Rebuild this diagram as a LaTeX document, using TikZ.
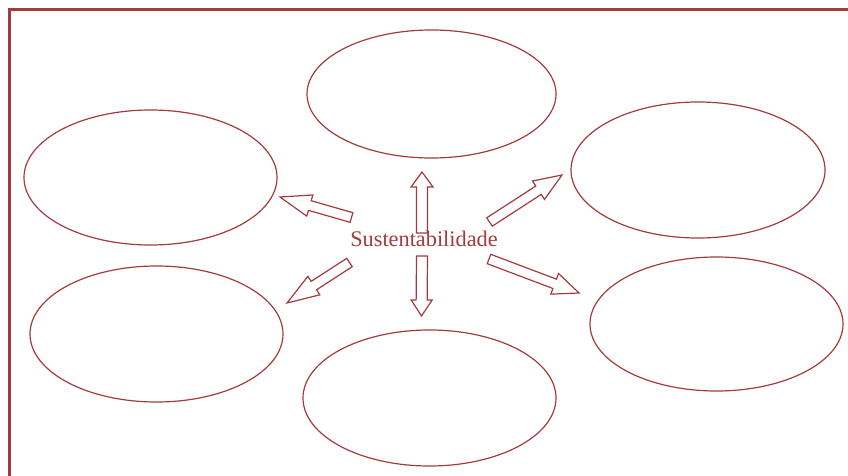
\documentclass[tikz,border=0pt]{standalone}
\usepackage{fontspec}
\setmainfont{Liberation Serif}
\usetikzlibrary{calc}
\definecolor{dred}{HTML}{A33B3B}
\tikzset{
  bubble/.style={draw=dred, line width=1.2pt},
  blockarr/.style={draw=dred, line width=1.2pt, line join=miter},
  frame/.style={draw=dred, line width=2.2pt},
}
\newcommand{\blockarrow}[5]{% tail, tip, shaft half width, head half width, head length
  \path coordinate (bC) at ($(#2)!#5!(#1)$);
  \draw[blockarr] ($(#1)!#3!90:(#2)$) -- ($(bC)!#3!-90:(#1)$) -- ($(bC)!#4!-90:(#1)$) -- (#2)
    -- ($(bC)!#4!90:(#1)$) -- ($(bC)!#3!90:(#1)$) -- ($(#1)!#3!-90:(#2)$) -- cycle;
}
\begin{document}
\begin{tikzpicture}[x=1pt,y=-1pt]
\useasboundingbox (0,0) rectangle (848,476);
\draw[frame] (9.5,490) -- (9.5,9.5) -- (860,9.5);
% ellipses
\draw[bubble] (431.5,94) ellipse [x radius=124.5, y radius=64];
\draw[bubble] (150.5,177.5) ellipse [x radius=126.5, y radius=67.5];
\draw[bubble] (698,170) ellipse [x radius=127, y radius=68];
\draw[bubble] (156.5,334) ellipse [x radius=126.5, y radius=68];
\draw[bubble] (429.5,398) ellipse [x radius=126.5, y radius=68];
\draw[bubble] (716.5,324) ellipse [x radius=126.5, y radius=67];
% arrows
\coordinate (upA) at (422,233);   \coordinate (upB) at (422,172);
\coordinate (dnA) at (422,256);   \coordinate (dnB) at (421.5,316);
\coordinate (luA) at (351.5,217.5); \coordinate (luB) at (280,197);
\coordinate (ruA) at (489.5,222); \coordinate (ruB) at (562,175);
\coordinate (ldA) at (349.5,262.5); \coordinate (ldB) at (287,303);
\coordinate (rdA) at (489,259);   \coordinate (rdB) at (579,293);
\blockarrow{upA}{upB}{5.5pt}{11pt}{15pt}
\blockarrow{dnA}{dnB}{5.5pt}{10.5pt}{16pt}
\blockarrow{luA}{luB}{5pt}{11pt}{31pt}
\blockarrow{ruA}{ruB}{5pt}{11pt}{28pt}
\blockarrow{ldA}{ldB}{5pt}{11pt}{32pt}
\blockarrow{rdA}{rdB}{5pt}{11pt}{26pt}
\node[text=dred, font=\fontsize{22.3}{26}\selectfont, anchor=base, inner sep=0pt] (center) at (424,246) {Sustentabilidade};
\end{tikzpicture}
\end{document}
